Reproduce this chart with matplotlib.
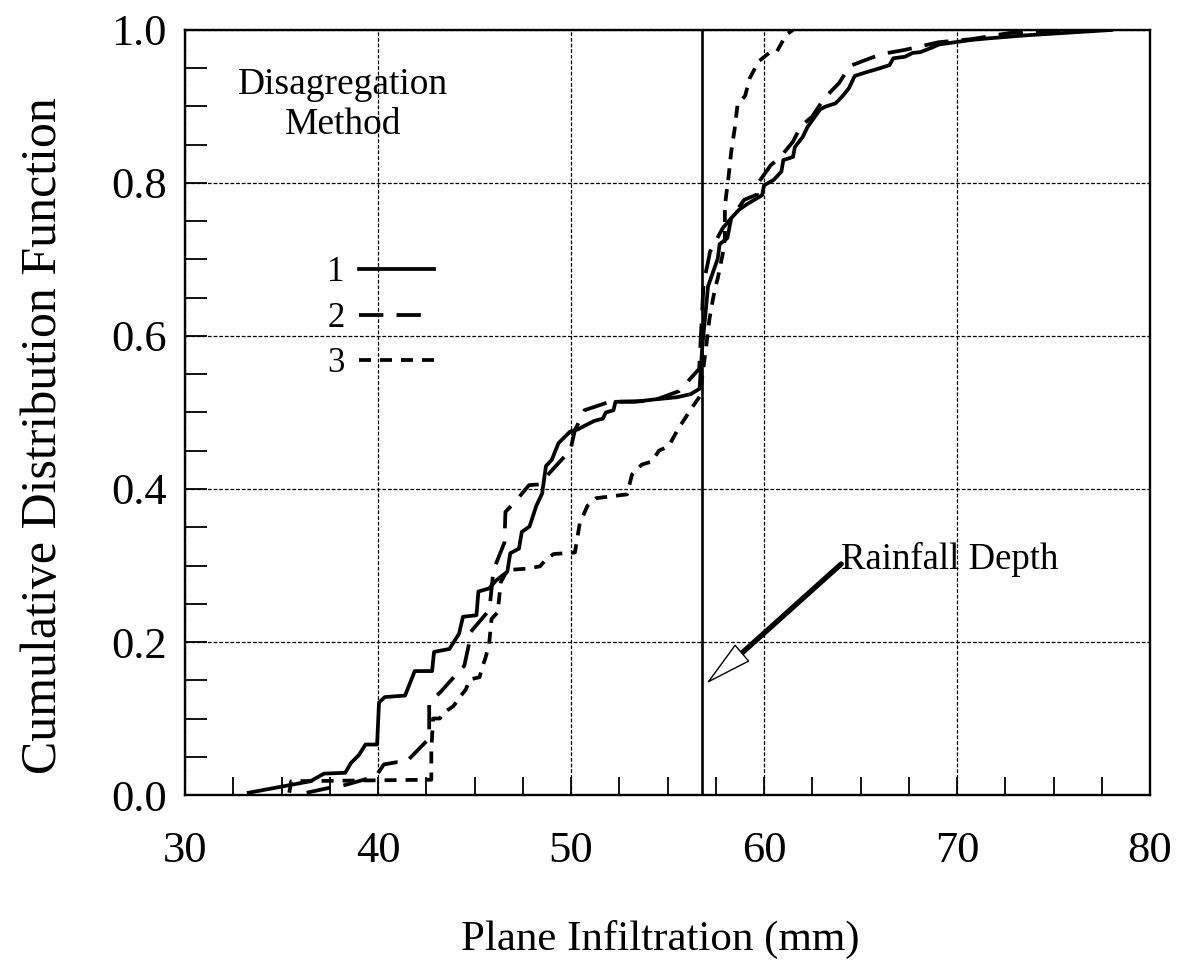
import matplotlib
matplotlib.use("Agg")
import matplotlib.pyplot as plt
from matplotlib.ticker import MultipleLocator
from matplotlib.lines import Line2D

plt.rcParams['font.family'] = ['Liberation Serif', 'DejaVu Serif']

# ---------------- data ----------------
# Disaggregation method 1 (solid)
m1_x = [33.3, 36.5, 37.2, 38.3, 38.6, 39.0, 39.35, 39.95, 40.05, 40.35, 41.4, 41.9,
        42.8, 42.9, 43.7, 44.2, 44.4, 45.1, 45.2, 45.75, 46.1, 46.7, 46.85, 47.3,
        47.45, 47.85, 48.2, 48.5, 48.7, 49.0, 49.35, 49.95, 50.36, 50.5, 51.2, 51.65,
        51.8, 52.2, 52.3, 53.3, 54.3, 55.5, 56.2, 56.66, 56.8, 57.1, 57.6, 57.7,
        58.1, 58.3, 58.7, 59.1, 59.9, 60.0, 60.5, 60.9, 61.0, 61.5, 61.6, 62.0,
        62.25, 62.9, 63.2, 63.7, 64.05, 64.4, 64.7, 65.2, 66.0, 66.5, 66.7, 67.3,
        67.7, 68.1, 68.7, 69.05, 69.9, 70.75, 71.6, 73.55, 78.0]
m1_y = [0.003, 0.018, 0.028, 0.029, 0.042, 0.052, 0.066, 0.066, 0.121, 0.128, 0.130, 0.162,
        0.162, 0.187, 0.191, 0.211, 0.233, 0.235, 0.266, 0.270, 0.280, 0.292, 0.316, 0.322,
        0.344, 0.351, 0.378, 0.394, 0.430, 0.438, 0.460, 0.475, 0.478, 0.480, 0.489, 0.492,
        0.500, 0.503, 0.514, 0.514, 0.517, 0.520, 0.524, 0.531, 0.586, 0.665, 0.701, 0.720,
        0.728, 0.754, 0.765, 0.772, 0.784, 0.797, 0.804, 0.815, 0.830, 0.834, 0.847, 0.860,
        0.873, 0.896, 0.900, 0.904, 0.913, 0.924, 0.940, 0.944, 0.950, 0.954, 0.963, 0.965,
        0.970, 0.971, 0.977, 0.981, 0.984, 0.987, 0.989, 0.993, 1.000]

# Disaggregation method 2 (long dashes)
m2_x = [36.3, 37.4, 38.0, 39.13, 39.9, 40.3, 41.0, 41.45, 42.65, 42.65, 43.25, 44.1,
        44.47, 44.76, 44.76, 45.77, 45.98, 46.55, 46.6, 47.16, 47.82, 48.34, 48.85, 49.97,
        50.2, 50.46, 50.7, 52.0, 54.2, 55.6, 56.64, 56.87, 57.1, 57.2, 57.86, 58.3,
        58.97, 59.64, 59.64, 60.34, 60.85, 61.5, 61.9, 62.5, 63.1, 63.9, 64.45, 65.6,
        66.2, 67.3, 68.0, 69.05, 70.75, 72.7, 76.0]
m2_y = [0.003, 0.009, 0.011, 0.019, 0.025, 0.040, 0.043, 0.043, 0.074, 0.120, 0.135, 0.159,
        0.169, 0.203, 0.212, 0.242, 0.294, 0.330, 0.370, 0.385, 0.405, 0.406, 0.420, 0.451,
        0.477, 0.490, 0.503, 0.514, 0.515, 0.528, 0.557, 0.670, 0.697, 0.710, 0.741, 0.754,
        0.778, 0.785, 0.798, 0.823, 0.834, 0.854, 0.874, 0.887, 0.910, 0.931, 0.953, 0.964,
        0.969, 0.974, 0.978, 0.984, 0.988, 0.996, 1.000]

# Disaggregation method 3 (short dashes)
m3_x = [35.4, 35.5, 42.76, 42.76, 42.85, 43.2, 43.37, 43.9, 44.3, 44.55, 44.75, 45.26,
        45.4, 45.55, 45.75, 45.88, 46.2, 46.36, 46.7, 47.75, 48.4, 48.7, 49.1, 50.2,
        50.45, 50.85, 51.3, 52.9, 53.16, 53.67, 54.2, 54.55, 55.06, 55.56, 55.9, 56.17,
        56.67, 57.03, 57.17, 57.35, 57.5, 57.6, 57.88, 57.97, 57.97, 58.17, 58.3, 58.48,
        58.62, 59.02, 59.26, 59.72, 60.27, 60.65, 61.15, 61.5]
m3_y = [0.003, 0.018, 0.020, 0.058, 0.100, 0.100, 0.107, 0.116, 0.130, 0.138, 0.151, 0.154,
        0.167, 0.178, 0.196, 0.230, 0.239, 0.278, 0.294, 0.296, 0.299, 0.308, 0.315, 0.317,
        0.355, 0.378, 0.388, 0.393, 0.419, 0.432, 0.436, 0.450, 0.456, 0.479, 0.492, 0.503,
        0.521, 0.592, 0.622, 0.648, 0.666, 0.675, 0.710, 0.727, 0.770, 0.810, 0.841, 0.871,
        0.901, 0.914, 0.937, 0.959, 0.970, 0.971, 0.994, 1.000]

rain_depth = 56.8
x_ticks = [30, 40, 50, 60, 70, 80]
x_tick_labels = ['30', '40', '50', '60', '70', '80']
y_ticks = [0.0, 0.2, 0.4, 0.6, 0.8, 1.0]
y_tick_labels = ['0.0', '0.2', '0.4', '0.6', '0.8', '1.0']
method_labels = ['1', '2', '3']

# ---------------- figure ----------------
fig = plt.figure(figsize=(11.84, 9.64), dpi=100)
ax = fig.add_axes([0.1563, 0.1753, 0.815, 0.7936])
ax.set_xlim(30, 80)
ax.set_ylim(0, 1)

LW = 2.7
style1 = dict(color='black', lw=LW, linestyle='-')
style2 = dict(color='black', lw=LW, dashes=(6.5, 3.5))
style3 = dict(color='black', lw=LW, dashes=(3.2, 2.4))

ax.plot(m1_x, m1_y, **style1)
ax.plot(m2_x, m2_y, **style2)
ax.plot(m3_x, m3_y, **style3)

ax.axvline(rain_depth, color='black', lw=1.9)

ax.set_xticks(x_ticks)
ax.set_xticklabels(x_tick_labels)
ax.set_yticks(y_ticks)
ax.set_yticklabels(y_tick_labels)
ax.xaxis.set_minor_locator(MultipleLocator(2.5))
ax.yaxis.set_minor_locator(MultipleLocator(0.05))
ax.grid(True, which='major', color='black', lw=0.9, linestyle=(0, (3, 1.5)))
ax.set_axisbelow(True)

ax.tick_params(axis='both', which='both', direction='in', top=False, right=False,
               width=1.3, labelsize=32)
ax.tick_params(axis='x', which='both', length=13, pad=26)
ax.tick_params(axis='y', which='both', length=16, pad=13)

for sp in ax.spines.values():
    sp.set_linewidth(1.7)

ax.set_xlabel('Plane Infiltration (mm)', fontsize=31)
ax.set_ylabel('Cumulative Distribution Function', fontsize=36)
ax.xaxis.set_label_coords(0.492, -0.163)
ax.yaxis.set_label_coords(-0.122, 0.47)

# legend title text
ax.text(0.164, 0.928, 'Disagregation', transform=ax.transAxes, ha='center', va='center',
        fontsize=27)
ax.text(0.164, 0.876, 'Method', transform=ax.transAxes, ha='center', va='center',
        fontsize=27)

handles = [Line2D([], [], **style1), Line2D([], [], **style2), Line2D([], [], **style3)]
leg = ax.legend(handles, method_labels, loc='upper left', bbox_to_anchor=(0.147, 0.704),
                frameon=False, markerfirst=False, fontsize=25, handlelength=2.15,
                handletextpad=0.42, labelspacing=0.36, borderpad=0, borderaxespad=0)

# Rainfall depth annotation
ax.text(64.0, 0.296, 'Rainfall Depth', fontsize=26.5, ha='left', va='baseline')
ax.annotate('', xy=(58.74, 0.183), xytext=(64.0, 0.302),
            arrowprops=dict(arrowstyle='-', lw=3.8, color='black',
                            shrinkA=0, shrinkB=0))
ax.annotate('', xy=(57.01, 0.1457), xytext=(58.74, 0.183),
            arrowprops=dict(arrowstyle='-|>,head_length=2.1,head_width=0.5',
                            mutation_scale=15, lw=1.0, fc='white', ec='black',
                            shrinkA=0, shrinkB=0))

fig.savefig('out.png', dpi=100, facecolor='white')
